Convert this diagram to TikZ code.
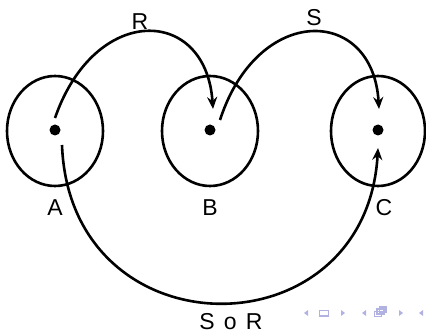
\documentclass[tikz,border=0pt]{standalone}
\usepackage{fontspec}
\setmainfont{Liberation Sans}
\usetikzlibrary{arrows.meta}
\definecolor{navc}{RGB}{178,178,226}
\begin{document}
\begin{tikzpicture}[x=1pt,y=-1pt,
  dotc/.style={circle,fill,inner sep=0pt,minimum size=11pt},
  lab/.style={font=\fontsize{23}{23}\selectfont,inner sep=0pt},
  rel/.style={line width=2.6pt,-{Stealth[length=12pt,width=10pt,inset=4pt]}},
  navt/.style={fill=navc,draw=none},
  navr/.style={draw=navc,line width=1.1pt}]
\useasboundingbox (0,0) rectangle (426,334);
\path[draw,line width=2.6pt] (55,131) ellipse [x radius=48,y radius=55];
\path[draw,line width=2.6pt] (210,131) ellipse [x radius=48,y radius=55];
\path[draw,line width=2.6pt] (378,131) ellipse [x radius=47,y radius=55];
\node[dotc] (a) at (55,130) {};
\node[dotc] (b) at (210,130) {};
\node[dotc] (c) at (378,130) {};
\node[lab] (la) at (55,208) {A};
\node[lab] (lb) at (210,208) {B};
\node[lab] (lc) at (384,208) {C};
\node[lab] (lr) at (140,22) {R};
\node[lab] (ls) at (314,18) {S};
\node[lab] (lsr) at (231,322) {S\hspace{0.4em}o\hspace{0.4em}R};
\coordinate (r0) at (55,118);
\coordinate (r1) at (213,109);
\coordinate (s0) at (220,120);
\coordinate (s1) at (379,109);
\coordinate (t0) at (62,145);
\coordinate (t1) at (378,148);
\draw[rel] (r0) .. controls (95,3) and (206,6) .. (r1);
\draw[rel] (s0) .. controls (258,3) and (373,6) .. (s1);
\draw[rel] (t0) .. controls (70,355) and (366,355) .. (t1);
% navigation symbols
\fill[navt] (308,310) -- (304,313) -- (308,316) -- cycle;
\draw[navr] (319.5,310.5) rectangle (328.5,316);
\fill[navt] (341,310) -- (345,313) -- (341,316) -- cycle;
\fill[navt] (366,310) -- (362,313) -- (366,316) -- cycle;
\draw[navr] (374.5,311.5) rectangle (381.5,316.5);
\draw[navr] (377,309) rectangle (384,314);
\draw[navr] (379.5,307) rectangle (386,312);
\fill[navt] (399,310) -- (403,313) -- (399,316) -- cycle;
\fill[navt] (423,310) -- (419,313) -- (423,316) -- cycle;
\end{tikzpicture}
\end{document}
